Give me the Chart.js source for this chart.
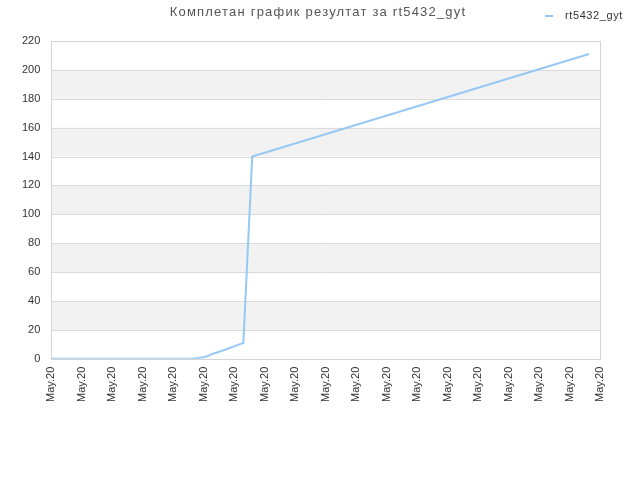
<!DOCTYPE html>
<html>
<head>
<meta charset="utf-8">
<script src="https://cdn.jsdelivr.net/npm/chart.js@4/dist/chart.umd.min.js"></script>
<style>
  html, body { margin: 0; padding: 0; background: #fff; }
  #wrap { width: 640px; height: 480px; }
</style>
</head>
<body>
<div id="wrap"><canvas id="resultChart"></canvas></div>
<script>
const chartTitle = "Комплетан график резултат за rt5432_gyt";
const seriesName = "rt5432_gyt";
// x positions in tick units (0 = first label)
const xValues = [0, 4.62, 5.05, 5.31, 5.70, 6.30, 6.59, 17.64];
const yValues = [0, 0, 1.2, 3.5, 6.2, 11, 140, 211];
const tickLabels = ["May.20", "May.20", "May.20", "May.20", "May.20", "May.20", "May.20",
  "May.20", "May.20", "May.20", "May.20", "May.20", "May.20", "May.20", "May.20",
  "May.20", "May.20", "May.20", "May.20"];

const lineColor = "rgb(150,200,245)";
const fontFamily = "'Liberation Sans', Arial, sans-serif";

// gray bands between every other grid line, plus the plot frame
const bandsPlugin = {
  id: "bands",
  beforeDatasetsDraw(chart) {
    const { ctx, chartArea, scales } = chart;
    const y = scales.y;
    ctx.save();
    ctx.fillStyle = "#f2f2f2";
    for (let v = 20; v < 220; v += 40) {
      const top = y.getPixelForValue(v + 20);
      const bottom = y.getPixelForValue(v);
      ctx.fillRect(chartArea.left, top, chartArea.right - chartArea.left, bottom - top);
    }
    ctx.strokeStyle = "#dadada";
    ctx.lineWidth = 1;
    for (let v = 20; v <= 220; v += 20) {
      const py = Math.round(y.getPixelForValue(v)) + 0.5;
      ctx.beginPath();
      ctx.moveTo(chartArea.left, py);
      ctx.lineTo(chartArea.right, py);
      ctx.stroke();
    }
    ctx.strokeStyle = "#d4d4d4";
    ctx.strokeRect(Math.round(chartArea.left) + 0.5, Math.round(chartArea.top) + 0.5,
      Math.round(chartArea.right - chartArea.left), Math.round(chartArea.bottom - chartArea.top));
    ctx.restore();
  }
};

// title in the middle and legend at the right, on the same row
const headerPlugin = {
  id: "header",
  afterDraw(chart) {
    const ctx = chart.ctx;
    ctx.save();
    ctx.textBaseline = "middle";
    ctx.font = "13px " + fontFamily;
    ctx.letterSpacing = "1.2px";
    ctx.fillStyle = "#555";
    ctx.textAlign = "center";
    ctx.fillText(chartTitle, 318, 12);
    const ds = chart.data.datasets[0];
    ctx.fillStyle = ds.borderColor;
    ctx.fillRect(545, 15, 8, 2);
    ctx.font = "11px " + fontFamily;
    ctx.letterSpacing = "0.6px";
    ctx.fillStyle = "#333";
    ctx.textAlign = "left";
    ctx.fillText(ds.label, 565, 16);
    ctx.restore();
  }
};

const points = xValues.map((x, i) => ({ x: x, y: yValues[i] }));

new Chart(document.getElementById("resultChart"), {
  type: "line",
  data: {
    datasets: [{
      label: seriesName,
      data: points,
      borderColor: lineColor,
      borderWidth: 2,
      pointRadius: 0,
      tension: 0,
      fill: false
    }]
  },
  options: {
    responsive: true,
    maintainAspectRatio: false,
    animation: false,
    layout: { padding: { top: 41, left: 11, right: 40, bottom: 70 } },
    plugins: {
      legend: { display: false },
      title: { display: false },
      tooltip: { enabled: false }
    },
    scales: {
      x: {
        type: "linear",
        min: 0,
        max: 18,
        grid: { display: false, drawTicks: false },
        border: { display: false },
        ticks: {
          stepSize: 1,
          autoSkip: false,
          maxRotation: 90,
          minRotation: 90,
          padding: 8,
          color: "#333",
          font: { family: fontFamily, size: 11 },
          callback: (v) => tickLabels[v]
        }
      },
      y: {
        min: 0,
        max: 220,
        grid: { display: false, drawTicks: false },
        border: { display: false },
        ticks: {
          stepSize: 20,
          padding: 11,
          color: "#333",
          font: { family: fontFamily, size: 11 }
        }
      }
    }
  },
  plugins: [bandsPlugin, headerPlugin]
});
</script>
</body>
</html>
